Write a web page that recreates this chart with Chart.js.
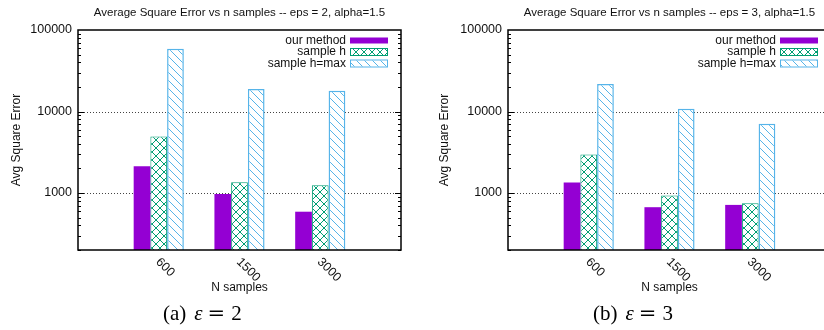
<!DOCTYPE html>
<html>
<head>
<meta charset="utf-8">
<script src="https://cdn.jsdelivr.net/npm/chart.js@4"></script>
<style>
  body { margin: 0; width: 824px; height: 330px; overflow: hidden; background: #fff; position: relative; }
  .box { position: absolute; top: 0; height: 330px; }
  .cap { position: absolute; top: 301px; font-family: "Liberation Serif", "DejaVu Serif", serif;
         font-size: 21px; color: #000; white-space: nowrap; }
  .cap i { margin-left: 8px; }
  .cap .eq { font-family: "DejaVu Serif", serif; margin: 0 6px 0 5px; }
</style>
</head>
<body>
<div class="box" style="left:0;width:412px"><canvas id="chartA"></canvas></div>
<div class="box" style="left:412px;width:430px"><canvas id="chartB"></canvas></div>
<div class="cap" style="left:163px">(a)<i>ε</i><span class="eq">=</span>2</div>
<div class="cap" style="left:593px">(b)<i>ε</i><span class="eq">=</span>3</div>
<script>
// data
const categories = ["600", "1500", "3000"];
const seriesNames = ["our method", "sample h", "sample h=max"];
// eps = 2
const eps2Ours = [2130, 970, 590];
const eps2SampleH = [4950, 1360, 1250];
const eps2SampleMax = [59000, 18900, 18000];
// eps = 3
const eps3Ours = [1350, 670, 715];
const eps3SampleH = [2960, 935, 750];
const eps3SampleMax = [21800, 10800, 7100];
// y axis
const yTickValues = [1000, 10000, 100000];
const yMin = 200;
const yMax = 100000;

const FONT = "'Liberation Sans', Arial, sans-serif";
const PURPLE = "#9400d3";
const GREEN = "#009e73";
const BLUE = "#56b4e9";

// hatch fills, gnuplot style
function makePattern(kind, color) {
  const c = document.createElement("canvas");
  c.width = 8;
  c.height = 8;
  const g = c.getContext("2d");
  g.fillStyle = "#fff";
  g.fillRect(0, 0, 8, 8);
  g.strokeStyle = color;
  g.lineWidth = 1;
  g.beginPath();
  for (let k = -8; k <= 8; k += 8) {
    g.moveTo(k, 0);
    g.lineTo(k + 8, 8);
    if (kind === "cross") {
      g.moveTo(k + 8, 0);
      g.lineTo(k, 8);
    }
  }
  g.stroke();
  return g.createPattern(c, "repeat");
}
const crossFill = makePattern("cross", GREEN);
const hatchFill = makePattern("hatch", BLUE);

// grid lines under the bars
const gridPlugin = {
  id: "gridLines",
  beforeDatasetsDraw(chart) {
    const { ctx, chartArea: a, scales: { y } } = chart;
    ctx.save();
    ctx.strokeStyle = "#444";
    ctx.lineWidth = 1;
    ctx.setLineDash([1, 2]);
    yTickValues.forEach((v) => {
      if (v >= yMax) return;
      const py = Math.round(y.getPixelForValue(v)) + 0.5;
      ctx.beginPath();
      ctx.moveTo(a.left, py);
      ctx.lineTo(a.right, py);
      ctx.stroke();
    });
    ctx.restore();
  },
};

// frame, ticks, labels, legend
const decorPlugin = {
  id: "decor",
  afterDraw(chart, args, opts) {
    const { ctx, chartArea: a, scales: { x, y } } = chart;
    ctx.save();
    // minor + major ticks, inside, both sides
    ctx.strokeStyle = "#000";
    ctx.lineWidth = 1;
    for (let dec = 100; dec < yMax; dec *= 10) {
      for (let m = 1; m <= 9; m++) {
        const v = dec * m;
        if (v < yMin || v > yMax) continue;
        const py = Math.round(y.getPixelForValue(v)) + 0.5;
        const len = m === 1 ? 6 : 3;
        ctx.beginPath();
        ctx.moveTo(a.left, py);
        ctx.lineTo(a.left + len, py);
        ctx.moveTo(a.right, py);
        ctx.lineTo(a.right - len, py);
        ctx.stroke();
      }
    }
    // border
    ctx.lineWidth = 1.5;
    ctx.strokeRect(a.left, a.top, a.right - a.left, a.bottom - a.top);

    ctx.fillStyle = "#111";
    // title
    ctx.font = "11.5px " + FONT;
    ctx.textAlign = "center";
    ctx.textBaseline = "middle";
    ctx.fillText(opts.title, (a.left + a.right) / 2, 13);
    // x label
    ctx.font = "12px " + FONT;
    ctx.fillText("N samples", (a.left + a.right) / 2, 288);
    // y label
    ctx.save();
    ctx.translate(a.left - opts.ylabelGap, (a.top + a.bottom) / 2);
    ctx.rotate(-Math.PI / 2);
    ctx.fillText("Avg Square Error", 0, 0);
    ctx.restore();
    // rotated category labels
    ctx.font = "12.5px " + FONT;
    ctx.textAlign = "left";
    categories.forEach((c, i) => {
      const px = x.getPixelForValue(i + 1);
      ctx.save();
      ctx.translate(px - 1, a.bottom + 10);
      ctx.rotate(Math.PI / 4);
      ctx.fillText(c, 0, 0);
      ctx.restore();
    });
    // legend
    ctx.font = "12px " + FONT;
    ctx.textAlign = "right";
    const sx = a.right - 51;
    chart.data.datasets.forEach((ds, i) => {
      const cy = 40.5 + i * 11.5;
      ctx.fillStyle = "#111";
      ctx.fillText(ds.label, sx - 4, cy);
      ctx.fillStyle = ds.backgroundColor;
      ctx.fillRect(sx, cy - 3, 38, 6);
      if (ds.borderWidth) {
        ctx.strokeStyle = ds.borderColor;
        ctx.lineWidth = 1;
        ctx.strokeRect(sx + 0.5, cy - 3.5, 37, 7);
      }
    });
    ctx.restore();
  },
};

function makeChart(id, canvasWidth, axisWidth, title, ylabelGap, ours, sampleH, sampleMax) {
  const el = document.getElementById(id);
  el.width = canvasWidth;
  el.height = 330;
  const pad = (arr) => [null, ...arr, null];
  return new Chart(el, {
    type: "bar",
    data: {
      labels: ["", ...categories, ""],
      datasets: [
        { label: seriesNames[0], data: pad(ours), backgroundColor: PURPLE, borderWidth: 0 },
        { label: seriesNames[1], data: pad(sampleH), backgroundColor: crossFill, borderColor: GREEN, borderWidth: 1 },
        { label: seriesNames[2], data: pad(sampleMax), backgroundColor: hatchFill, borderColor: BLUE, borderWidth: 1.5 },
      ],
    },
    options: {
      responsive: false,
      animation: false,
      events: [],
      layout: { padding: { left: 0, right: canvasWidth - axisWidth - 323, top: 30, bottom: 80 } },
      datasets: { bar: { categoryPercentage: 0.621, barPercentage: 1 } },
      plugins: {
        legend: { display: false },
        tooltip: { enabled: false },
        decor: { title: title, ylabelGap: ylabelGap },
      },
      scales: {
        x: { display: false, offset: false },
        y: {
          type: "logarithmic",
          min: yMin,
          max: yMax,
          grid: { display: false, drawTicks: false },
          border: { display: false },
          afterFit: (scale) => { scale.width = axisWidth; },
          ticks: {
            autoSkip: false,
            padding: 6,
            color: "#111",
            font: { family: FONT, size: 12.5 },
            callback: (v) => (yTickValues.includes(v) ? String(v) : ""),
          },
        },
      },
    },
    plugins: [gridPlugin, decorPlugin],
  });
}

makeChart("chartA", 412, 78, "Average Square Error vs n samples -- eps = 2, alpha=1.5", 61,
  eps2Ours, eps2SampleH, eps2SampleMax);
makeChart("chartB", 430, 96, "Average Square Error vs n samples -- eps = 3, alpha=1.5", 63,
  eps3Ours, eps3SampleH, eps3SampleMax);
</script>
</body>
</html>
